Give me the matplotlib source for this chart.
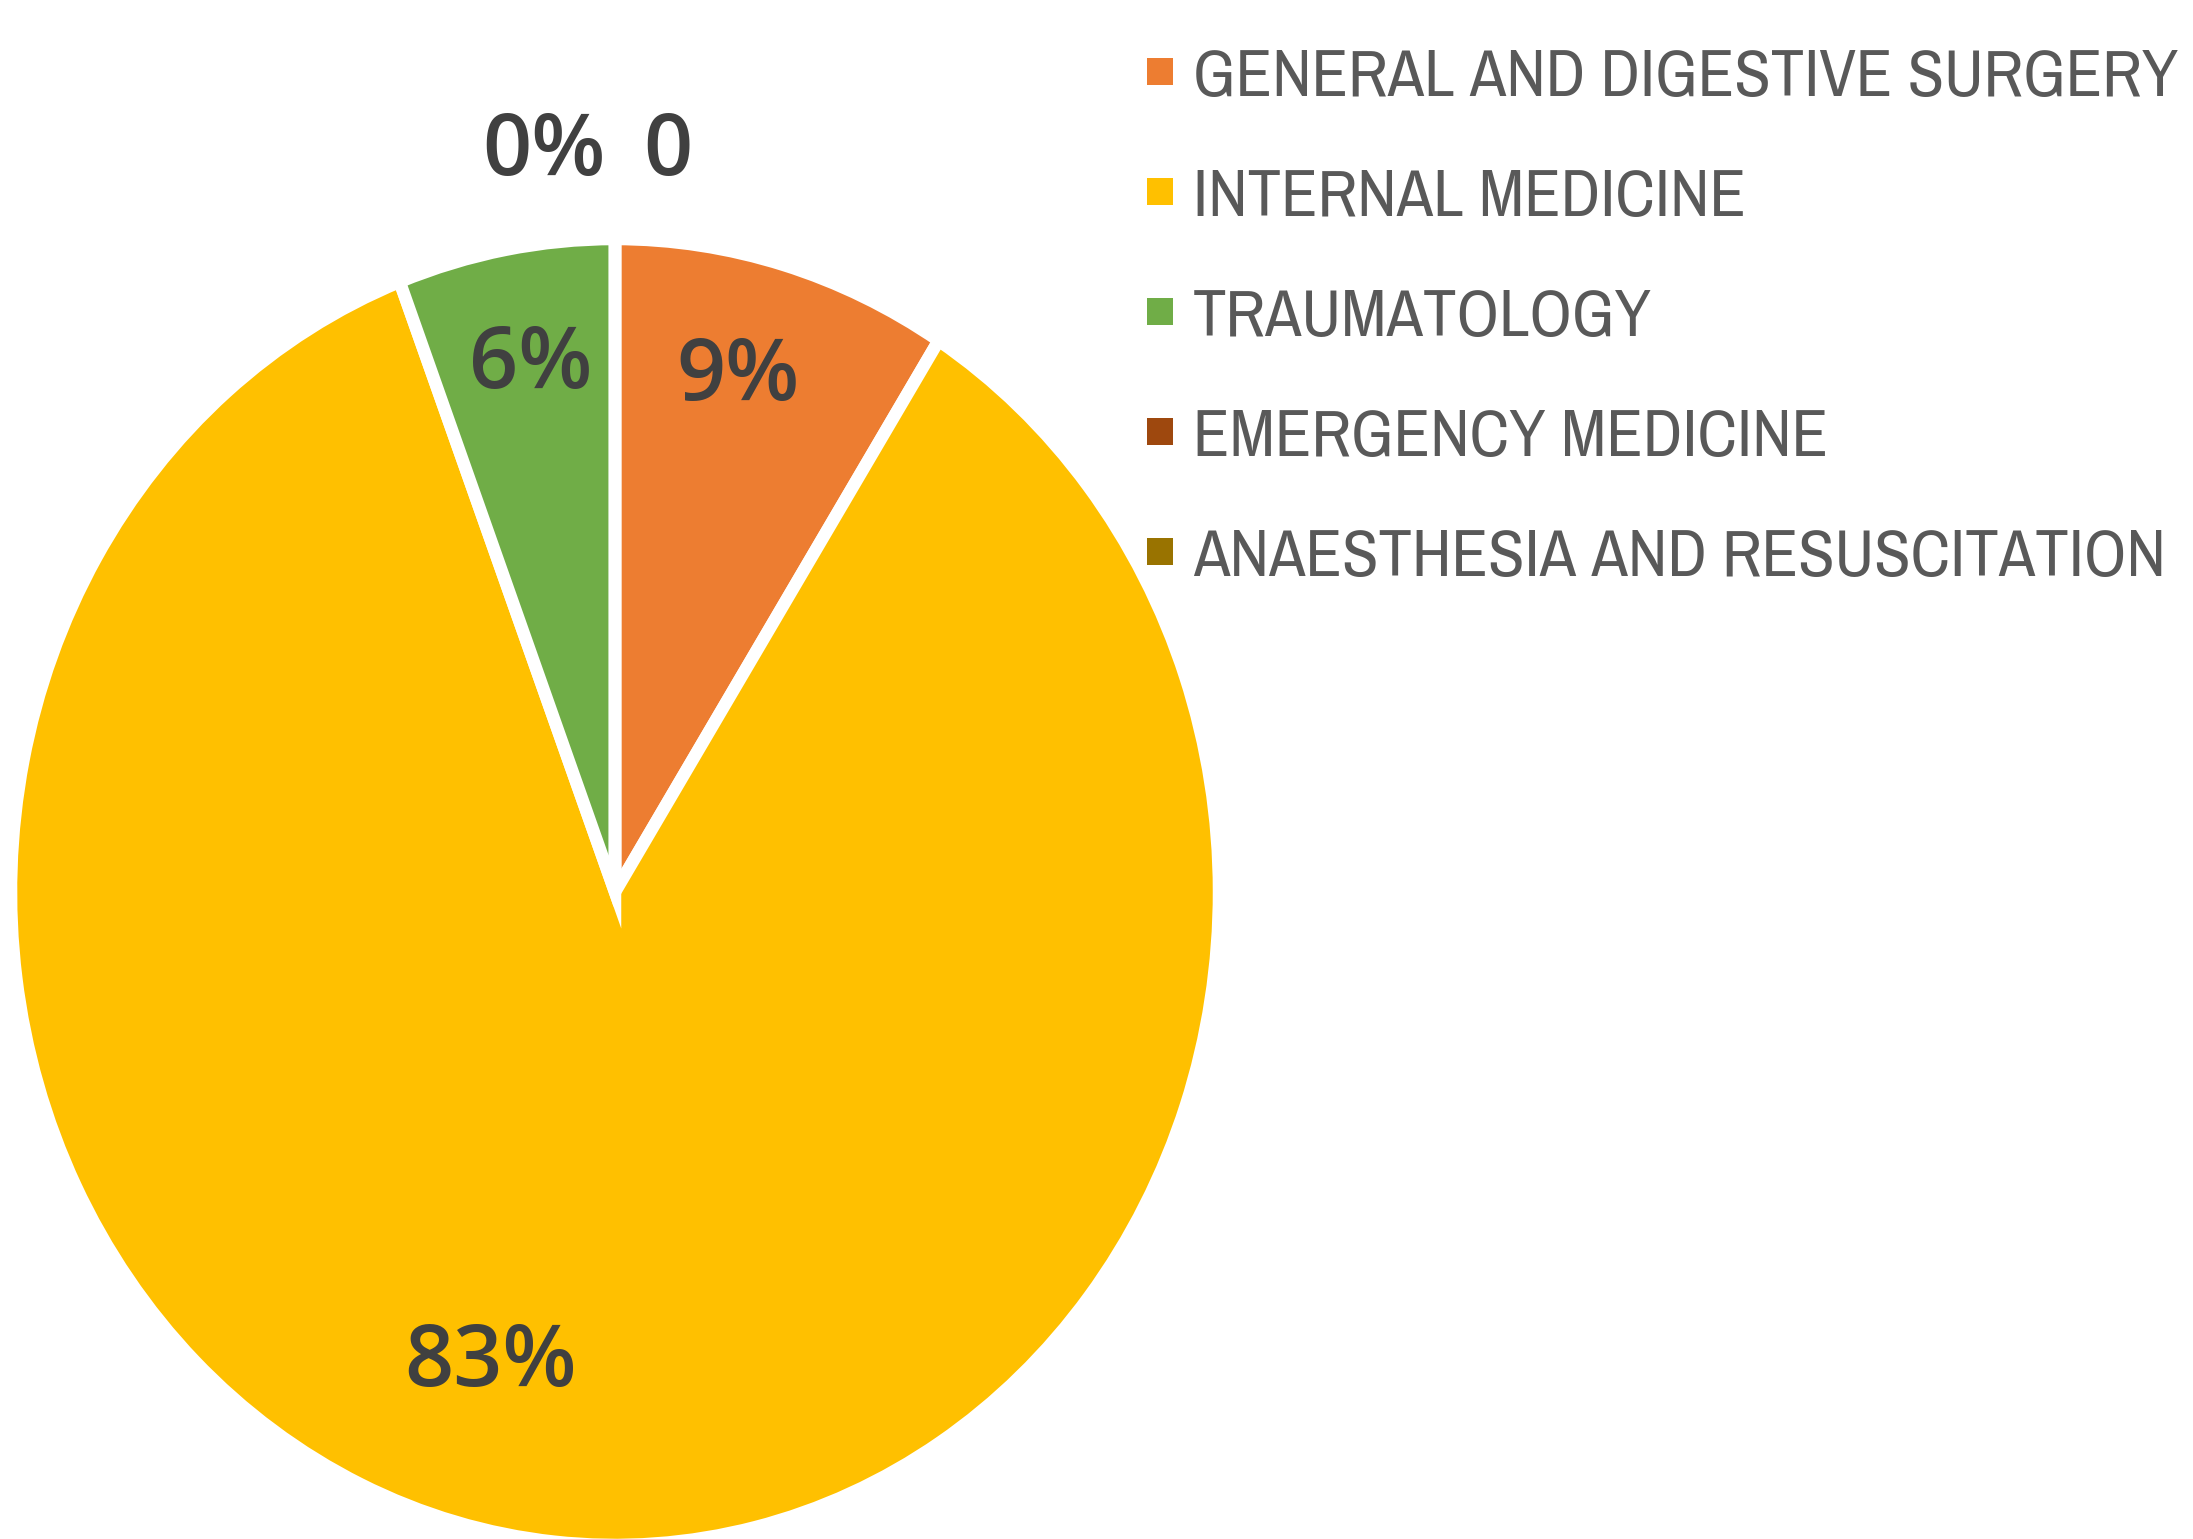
import matplotlib.pyplot as plt
from matplotlib import font_manager
from matplotlib.patches import Rectangle
import numpy as np

# data
departments = ["GENERAL AND DIGESTIVE SURGERY", "INTERNAL MEDICINE", "TRAUMATOLOGY",
               "EMERGENCY MEDICINE", "ANAESTHESIA AND RESUSCITATION"]
shares = [9.0, 85.2, 5.8, 0.0, 0.0]
label_texts = ["9%", "83%", "6%", "0%", "0"]
colors = ["#ED7D31", "#FFC000", "#70AD47", "#9E480E", "#997300"]


def pick_narrow_font():
    # prefer a condensed face for the legend, like the original
    for f in font_manager.fontManager.ttflist:
        if "Narrow" in f.name or "Condensed" in f.name:
            return dict(family=f.name)
    for f in font_manager.fontManager.ttflist:
        if f.name == "DejaVu Sans" and f.stretch in ("condensed", "semi-condensed", 400):
            return dict(family="DejaVu Sans", stretch="condensed")
    return dict(family="Liberation Sans")


def main():
    W, H = 2193, 1539
    fig = plt.figure(figsize=(W / 100, H / 100), dpi=100)
    cx, cy, rx, ry = 615, 892, 604, 653
    ax = fig.add_axes([(cx - rx) / W, (H - cy - ry) / H, 2 * rx / W, 2 * ry / H])

    wedges, _ = ax.pie(shares, colors=colors, startangle=90, counterclock=False,
                       radius=1, wedgeprops=dict(edgecolor="white", linewidth=9))
    ax.set_aspect("auto")
    ax.set_xlim(-1, 1)
    ax.set_ylim(-1, 1)
    ax.axis("off")

    # label placement: radius factor, angle shift, x offset, alignment
    label_r = [0.813, 0.752, 0.818, 1.132, 1.132]
    label_shift = [1.7, -10.2, -0.6, 0, 0]
    label_dx = [0, 0, 0, -0.015, 0.047]
    label_ha = ["center", "center", "center", "right", "left"]
    for w, txt, r, sh, dx, ha in zip(wedges, label_texts, label_r, label_shift, label_dx, label_ha):
        ang = np.deg2rad((w.theta1 + w.theta2) / 2 + sh)
        ax.text(r * np.cos(ang) + dx, r * np.sin(ang), txt, ha=ha, va="center",
                fontsize=62, color="#404040", family=["Open Sans", "DejaVu Sans"],
                fontweight="semibold", clip_on=False)

    # legend drawn by hand: square marker + label per row
    font = pick_narrow_font()
    renderer = fig.canvas.get_renderer()
    probe = fig.text(0, 0, departments[0], fontsize=40, **font)
    width = probe.get_window_extent(renderer).width
    probe.remove()
    legend_size = 40 * 986 / width

    row0, step = 72, 120
    for i, (name, c) in enumerate(zip(departments, colors)):
        yc = row0 + i * step
        fig.add_artist(Rectangle((1147 / W, 1 - (yc + 13) / H), 26 / W, 27 / H,
                                 transform=fig.transFigure, facecolor=c, edgecolor="none"))
        fig.text(1193 / W, 1 - (yc + 24) / H, name, fontsize=legend_size, color="#595959",
                 ha="left", va="baseline", **font)

    fig.savefig("out.png", dpi=100)


if __name__ == "__main__":
    main()
